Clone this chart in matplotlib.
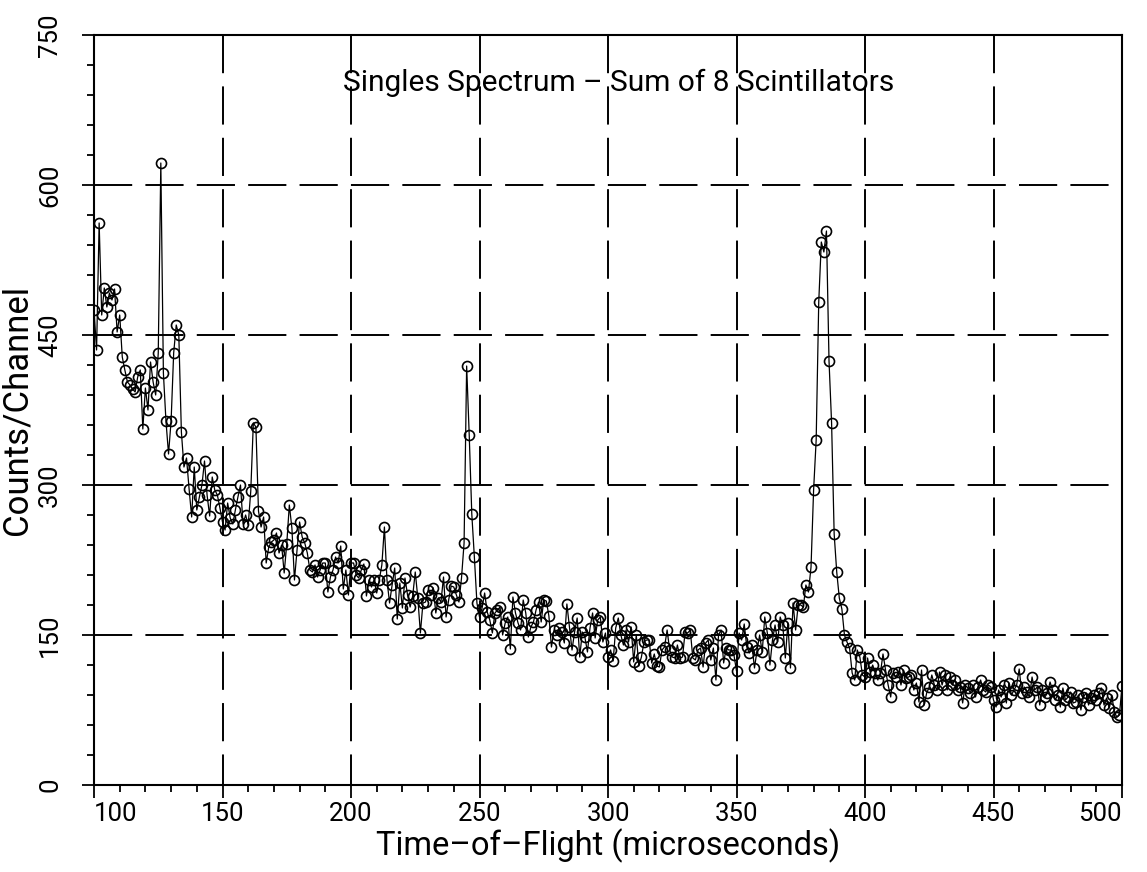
import numpy as np
import matplotlib
matplotlib.use("Agg")
import matplotlib.pyplot as plt
from matplotlib.ticker import MultipleLocator

plt.rcParams['font.family'] = ['Roboto', 'DejaVu Sans']
plt.rcParams['lines.scale_dashes'] = False

# time of flight, one channel per microsecond
tof_start = 100
tof_end = 500

# counts per channel (10 channels per row)
counts = [
    475, 435, 562, 470, 497, 478, 492, 485, 496, 453,   # 100
    470, 428, 415, 403, 400, 396, 393, 408, 415, 356,   # 110
    397, 375, 423, 403, 390, 432, 622, 412, 364, 331,   # 120
    364, 432, 460, 450, 353, 318, 327, 296, 268, 318,   # 130
    275, 288, 300, 324, 290, 269, 308, 295, 290, 277,   # 140
    263, 255, 282, 267, 261, 275, 288, 300, 261, 270,   # 150
    260, 294, 362, 358, 274, 258, 268, 222, 238, 243,   # 160
    245, 252, 232, 240, 212, 241, 280, 257, 205, 235,   # 170
    263, 248, 242, 232, 215, 213, 220, 208, 215, 222,   # 180
    222, 193, 208, 215, 228, 222, 239, 196, 215, 190,   # 190
    222, 222, 210, 207, 215, 221, 189, 205, 198, 205,   # 200
    192, 205, 220, 258, 205, 182, 200, 217, 166, 202,   # 210
    177, 207, 190, 178, 189, 213, 187, 152, 182, 183,   # 220
    195, 190, 197, 172, 187, 183, 208, 168, 185, 199,   # 230
    198, 190, 183, 207, 242, 419, 350, 271, 228, 182,   # 240
    168, 177, 192, 173, 165, 152, 172, 175, 178, 150,   # 250
    162, 168, 136, 188, 172, 162, 155, 185, 172, 148,   # 260
    158, 163, 175, 183, 163, 185, 184, 169, 138, 155,   # 270
    150, 157, 153, 142, 181, 158, 135, 153, 167, 128,   # 280
    153, 148, 133, 157, 172, 147, 165, 168, 143, 152,   # 290
    128, 135, 124, 157, 167, 150, 140, 155, 143, 158,   # 300
    123, 150, 119, 128, 143, 145, 145, 122, 131, 119,   # 310
    118, 135, 138, 155, 135, 128, 127, 140, 127, 128,   # 320
    153, 152, 155, 127, 125, 135, 137, 118, 142, 145,   # 330
    125, 137, 105, 150, 155, 122, 137, 135, 135, 130,   # 340
    114, 152, 145, 161, 138, 132, 140, 117, 135, 150,   # 350
    133, 168, 152, 120, 145, 160, 143, 168, 160, 127,   # 360
    162, 117, 182, 155, 180, 180, 178, 200, 193, 218,   # 370
    295, 345, 483, 543, 533, 554, 424, 362, 251, 213,   # 380
    187, 176, 150, 143, 137, 112, 105, 135, 128, 110,   # 390
    108, 127, 113, 120, 112, 105, 112, 131, 115, 100,   # 400
    88, 112, 108, 113, 100, 115, 107, 108, 110, 95,     # 410
    102, 83, 115, 80, 92, 98, 110, 100, 95, 113,        # 420
    100, 110, 95, 108, 100, 105, 95, 98, 82, 100,       # 430
    97, 92, 100, 88, 98, 105, 95, 93, 100, 98,          # 440
    85, 78, 95, 88, 100, 82, 102, 90, 95, 100,          # 450
    116, 92, 98, 93, 88, 108, 95, 98, 80, 95,           # 460
    88, 92, 103, 95, 85, 90, 78, 97, 85, 88,            # 470
    93, 82, 83, 90, 75, 88, 92, 80, 87, 90,             # 480
    85, 92, 97, 80, 87, 77, 90, 73, 68, 70,             # 490
    99,                                                 # 500
]
tof = np.arange(tof_start, tof_end + 1)
assert len(tof) == len(counts)

x_grid = [150, 200, 250, 300, 350, 400, 450]
y_grid = [150, 300, 450, 600]
x_labels = ["100", "150", "200", "250", "300", "350", "400", "450", "500"]
y_labels = ["0", "150", "300", "450", "600", "750"]

fig = plt.figure(figsize=(11.47, 8.72), dpi=100)
ax = fig.add_axes([94/1147, 1 - 785/872, 1028/1147, 750/872])
ax.set_xlim(100, 500)
ax.set_ylim(0, 750)

# dashed grid, horizontal from the left, vertical from the top
dash = (27.5, 9.5)
for yg in y_grid:
    ax.plot([100, 500], [yg, yg], color='black', lw=1.4, dashes=dash, zorder=1)
for xg in x_grid:
    ax.plot([xg, xg], [750, 0], color='black', lw=1.4, dashes=dash, zorder=1)

ax.plot(tof, counts, color='black', lw=0.9, marker='o', ms=7.2,
        mfc='none', mec='black', mew=1.2, zorder=3)

for s in ax.spines.values():
    s.set_linewidth(1.5)

ax.xaxis.set_major_locator(MultipleLocator(50))
ax.xaxis.set_minor_locator(MultipleLocator(10))
ax.yaxis.set_major_locator(MultipleLocator(150))
ax.yaxis.set_minor_locator(MultipleLocator(30))
ax.tick_params(which='major', direction='out', length=9, width=1.3)
ax.tick_params(which='minor', direction='out', length=5, width=1.3)
ax.tick_params(axis='x', labelsize=18.5, pad=3)
ax.tick_params(axis='y', labelsize=18.5, pad=14)

ax.set_xticks(np.arange(100, 501, 50))
ax.set_xticklabels(x_labels)
xt = ax.get_xticklabels()
xt[0].set_ha('left')
xt[-1].set_ha('right')

ax.set_yticks(np.arange(0, 751, 150))
ax.set_yticklabels(y_labels, rotation=90, va='center')

ax.set_xlabel("Time–of–Flight (microseconds)", fontsize=23.5, labelpad=2)
fig.text(17/1147, 1 - 410/872, "Counts/Channel", rotation=90, fontsize=25,
         ha='center', va='center')

ax.text(0.51, 0.936, "Singles Spectrum – Sum of 8 Scintillators",
        transform=ax.transAxes, fontsize=21.5, ha='center', va='center')

fig.savefig("out.png", dpi=100)
